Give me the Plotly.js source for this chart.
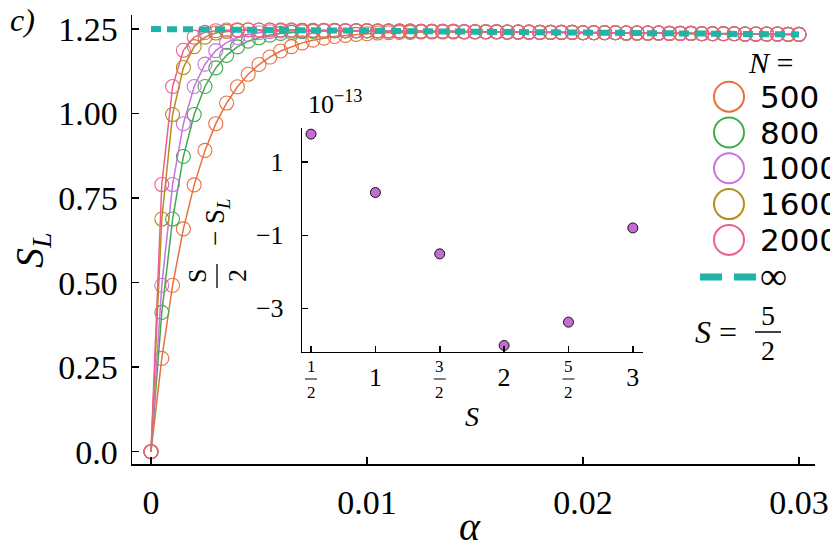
<!DOCTYPE html>
<html>
<head>
<meta charset="utf-8">
<script src="https://cdn.plot.ly/plotly-3.0.1.min.js"></script>
<style>
  html, body { margin: 0; padding: 0; background: #fff; }
  #plot { width: 830px; height: 554px; }
</style>
</head>
<body>
<div id="plot"></div>
<script>
// alpha grid
var alpha = [0, 0.0005, 0.001, 0.0015, 0.002, 0.0025, 0.003, 0.0035, 0.004, 0.0045,
  0.005, 0.0055, 0.006, 0.0065, 0.007, 0.0075, 0.008, 0.0085, 0.009, 0.0095,
  0.01, 0.0105, 0.011, 0.0115, 0.012, 0.0125, 0.013, 0.0135, 0.014, 0.0145,
  0.015, 0.0155, 0.016, 0.0165, 0.017, 0.0175, 0.018, 0.0185, 0.019, 0.0195,
  0.02, 0.0205, 0.021, 0.0215, 0.022, 0.0225, 0.023, 0.0235, 0.024, 0.0245,
  0.025, 0.0255, 0.026, 0.0265, 0.027, 0.0275, 0.028, 0.0285, 0.029, 0.0295, 0.03];

var sizesN = ['500', '800', '1000', '1600', '2000'];
var colorsN = ['#e8703f', '#3fab4e', '#c874dc', '#b38f1c', '#ef5f8c'];
var colorInf = '#1fb3a9';

var SL500 = [0, 0.276, 0.492, 0.659, 0.789, 0.891, 0.970, 1.031, 1.079, 1.116,
  1.145, 1.167, 1.185, 1.198, 1.209, 1.217, 1.223, 1.228, 1.231, 1.234,
  1.236, 1.238, 1.239, 1.240, 1.240, 1.241, 1.241, 1.241, 1.241, 1.241,
  1.241, 1.241, 1.241, 1.241, 1.241, 1.240, 1.240, 1.240, 1.240, 1.240,
  1.239, 1.239, 1.239, 1.239, 1.238, 1.238, 1.238, 1.238, 1.237, 1.237,
  1.237, 1.236, 1.236, 1.236, 1.236, 1.235, 1.235, 1.235, 1.235, 1.234, 1.234];

var SL800 = [0, 0.412, 0.688, 0.873, 0.997, 1.080, 1.135, 1.172, 1.197, 1.214,
  1.224, 1.232, 1.237, 1.240, 1.242, 1.243, 1.244, 1.244, 1.244, 1.244,
  1.244, 1.244, 1.244, 1.244, 1.243, 1.243, 1.243, 1.243, 1.243, 1.242,
  1.242, 1.242, 1.242, 1.241, 1.241, 1.241, 1.240, 1.240, 1.240, 1.240,
  1.239, 1.239, 1.239, 1.239, 1.238, 1.238, 1.238, 1.238, 1.237, 1.237,
  1.237, 1.236, 1.236, 1.236, 1.236, 1.235, 1.235, 1.235, 1.235, 1.234, 1.234];

var SL1000 = [0, 0.492, 0.790, 0.970, 1.080, 1.146, 1.186, 1.210, 1.225, 1.234,
  1.239, 1.242, 1.244, 1.245, 1.245, 1.245, 1.245, 1.245, 1.245, 1.245,
  1.245, 1.244, 1.244, 1.244, 1.244, 1.243, 1.243, 1.243, 1.243, 1.242,
  1.242, 1.242, 1.242, 1.241, 1.241, 1.241, 1.240, 1.240, 1.240, 1.240,
  1.239, 1.239, 1.239, 1.239, 1.238, 1.238, 1.238, 1.238, 1.237, 1.237,
  1.237, 1.236, 1.236, 1.236, 1.236, 1.235, 1.235, 1.235, 1.235, 1.234, 1.234];

var SL1600 = [0, 0.688, 0.997, 1.136, 1.198, 1.226, 1.238, 1.243, 1.246, 1.247,
  1.247, 1.247, 1.247, 1.247, 1.246, 1.246, 1.246, 1.246, 1.245, 1.245,
  1.245, 1.244, 1.244, 1.244, 1.244, 1.243, 1.243, 1.243, 1.243, 1.242,
  1.242, 1.242, 1.242, 1.241, 1.241, 1.241, 1.240, 1.240, 1.240, 1.240,
  1.239, 1.239, 1.239, 1.239, 1.238, 1.238, 1.238, 1.238, 1.237, 1.237,
  1.237, 1.236, 1.236, 1.236, 1.236, 1.235, 1.235, 1.235, 1.235, 1.234, 1.234];

var SL2000 = [0, 0.790, 1.080, 1.187, 1.226, 1.240, 1.245, 1.247, 1.248, 1.248,
  1.247, 1.247, 1.247, 1.247, 1.246, 1.246, 1.246, 1.246, 1.245, 1.245,
  1.245, 1.244, 1.244, 1.244, 1.244, 1.243, 1.243, 1.243, 1.243, 1.242,
  1.242, 1.242, 1.242, 1.241, 1.241, 1.241, 1.240, 1.240, 1.240, 1.240,
  1.239, 1.239, 1.239, 1.239, 1.238, 1.238, 1.238, 1.238, 1.237, 1.237,
  1.237, 1.236, 1.236, 1.236, 1.236, 1.235, 1.235, 1.235, 1.235, 1.234, 1.234];

// N = infinity curve
var alphaInf = [0, 0.005, 0.01, 0.015, 0.02, 0.025, 0.03];
var SLInf = [1.250, 1.247, 1.245, 1.242, 1.239, 1.237, 1.234];

// inset: S/2 - S_L in units of 1e-13
var spinS = [0.5, 1, 1.5, 2, 2.5, 3];
var diffS = [1.77, 0.17, -1.51, -4.02, -3.38, -0.80];

var mainXTicks = [0, 0.01, 0.02, 0.03];
var mainXText = ['0', '0.01', '0.02', '0.03'];
var mainYTicks = [0, 0.25, 0.5, 0.75, 1.0, 1.25];
var mainYText = ['0.0', '0.25', '0.50', '0.75', '1.00', '1.25'];
var insetYTicks = [1, -1, -3];
var insetYText = ['1', '\u22121', '\u22123'];
// half-integer ticks get stacked fractions, drawn as notes below
var insetXText = ['', '1', '', '2', '', '3'];
var fracTicks = [0.5, 1.5, 2.5];
var fracNum = ['1', '3', '5'];

var allSL = [SL500, SL800, SL1000, SL1600, SL2000];

// page pixel -> paper coords (margins l=132, t=15, plot 683 x 449)
function px(x) { return (x - 132) / 683; }
function py(y) { return (464 - y) / 449; }

var serif = 'Liberation Serif';

var traces = [];
for (var k = 0; k < allSL.length; k++) {
  traces.push({
    x: alpha, y: allSL[k], type: 'scatter', mode: 'lines+markers',
    name: sizesN[k],
    line: {color: colorsN[k], width: 1.5},
    marker: {symbol: 'circle-open', size: 14, color: colorsN[k], line: {width: 1.1}},
    showlegend: false, hoverinfo: 'skip'
  });
}
traces.push({
  x: alphaInf, y: SLInf, type: 'scatter', mode: 'lines', name: '\u221e',
  line: {color: colorInf, width: 6, dash: '10px,6px'},
  showlegend: false, hoverinfo: 'skip'
});
traces.push({
  x: spinS, y: diffS, type: 'scatter', mode: 'markers', xaxis: 'x2', yaxis: 'y2',
  marker: {size: 10, color: '#c46bd4', line: {color: '#111', width: 1}},
  showlegend: false, hoverinfo: 'skip'
});

var shapes = [];
var annotations = [];

function note(text, x, y, size, extra) {
  var a = {
    text: text, xref: 'paper', yref: 'paper', x: px(x), y: py(y),
    xanchor: 'center', yanchor: 'middle', showarrow: false,
    font: {family: serif, size: size, color: '#000'}
  };
  for (var key in extra) a[key] = extra[key];
  annotations.push(a);
}

function bar(x0, y0, x1, y1, w) {
  shapes.push({
    type: 'line', xref: 'paper', yref: 'paper', x0: px(x0), x1: px(x1),
    y0: py(y0), y1: py(y1), line: {color: '#000', width: w}
  });
}

// hand made legend
for (var k = 0; k < sizesN.length; k++) {
  var yc = 96.7 + 35.8 * k;
  shapes.push({
    type: 'circle', xref: 'paper', yref: 'paper',
    xsizemode: 'pixel', ysizemode: 'pixel', xanchor: px(729), yanchor: py(yc),
    x0: -15, x1: 15, y0: -15, y1: 15,
    line: {color: colorsN[k], width: 2}
  });
  note(sizesN[k], 758, yc, 31, {xanchor: 'left', font: {family: 'DejaVu Sans', size: 31, color: '#000'}});
}
// two dashes for the infinity entry
[[700, 722], [734, 756]].forEach(function (d) {
  shapes.push({
    type: 'line', xref: 'paper', yref: 'paper', x0: px(d[0]), x1: px(d[1]),
    y0: py(277), y1: py(277), line: {color: colorInf, width: 7}
  });
});

// inset x fraction tick labels
for (var k = 0; k < fracTicks.length; k++) {
  annotations.push({
    text: fracNum[k], xref: 'x2', yref: 'paper', x: fracTicks[k], y: py(366),
    showarrow: false, xanchor: 'center', yanchor: 'middle',
    font: {family: serif, size: 17, color: '#000'}
  });
  annotations.push({
    text: '2', xref: 'x2', yref: 'paper', x: fracTicks[k], y: py(392),
    showarrow: false, xanchor: 'center', yanchor: 'middle',
    font: {family: serif, size: 17, color: '#000'}
  });
  shapes.push({
    type: 'line', xref: 'x2', yref: 'paper', xsizemode: 'pixel', xanchor: fracTicks[k],
    x0: -6, x1: 6, y0: py(379), y1: py(379), line: {color: '#000', width: 1.2}
  });
}

bar(755, 332, 781, 332, 1.5);
bar(217, 264, 217, 288, 1.3);

note('<i>c)</i>', 22, 20, 32);
note('<i>S</i><sub><i>L</i></sub>', 32, 250, 40, {textangle: -90});
note('<i>\u03b1</i>', 470, 526, 40);
note('<i>N</i> =', 770, 62, 30);
note('\u221e', 773, 276, 38);
note('<i>S</i> =', 716, 332, 32);
note('5', 768, 315, 28);
note('2', 768, 350, 28);
note('10<sup>\u221213</sup>', 306, 102, 26, {xanchor: 'left'});
note('<i>S</i>', 472, 416, 28);
note('\u2212 S<sub><i>L</i></sub>', 217, 222, 27, {textangle: -90});
note('S', 197, 276, 26, {textangle: -90});
note('2', 237, 276, 26, {textangle: -90});

var axisLine = {showline: true, linecolor: '#000', linewidth: 1.5, mirror: false,
  showgrid: false, zeroline: false, ticks: 'inside', tickcolor: '#000',
  tickwidth: 1.5, ticklen: 7};

function axis(extra) {
  var a = {};
  for (var key in axisLine) a[key] = axisLine[key];
  for (var key in extra) a[key] = extra[key];
  return a;
}

var layout = {
  width: 830, height: 554,
  margin: {l: 132, r: 15, t: 15, b: 90},
  paper_bgcolor: '#fff', plot_bgcolor: 'rgba(0,0,0,0)',
  font: {family: serif, color: '#000'},
  xaxis: axis({
    range: [-0.000879, 0.03074], tickmode: 'array', tickvals: mainXTicks,
    ticktext: mainXText, tickfont: {family: serif, size: 34}, ticklabelstandoff: 8
  }),
  yaxis: axis({
    range: [-0.0364, 1.2914], tickmode: 'array', tickvals: mainYTicks,
    ticktext: mainYText, tickfont: {family: serif, size: 34}, ticklabelstandoff: 6
  }),
  xaxis2: axis({
    domain: [0.2493, 0.748], anchor: 'y2', range: [0.432, 3.078],
    tickmode: 'array', tickvals: spinS, ticktext: insetXText,
    tickfont: {family: serif, size: 26}, ticklen: 6, ticklabelstandoff: 2
  }),
  yaxis2: axis({
    domain: [0.2501, 0.7477], anchor: 'x2', range: [-4.19, 1.93],
    tickmode: 'array', tickvals: insetYTicks, ticktext: insetYText,
    tickfont: {family: serif, size: 26}, ticklen: 6, ticklabelstandoff: 12
  }),
  shapes: shapes,
  annotations: annotations,
  showlegend: false
};

Plotly.newPlot('plot', traces, layout, {displayModeBar: false, staticPlot: true});
</script>
</body>
</html>
